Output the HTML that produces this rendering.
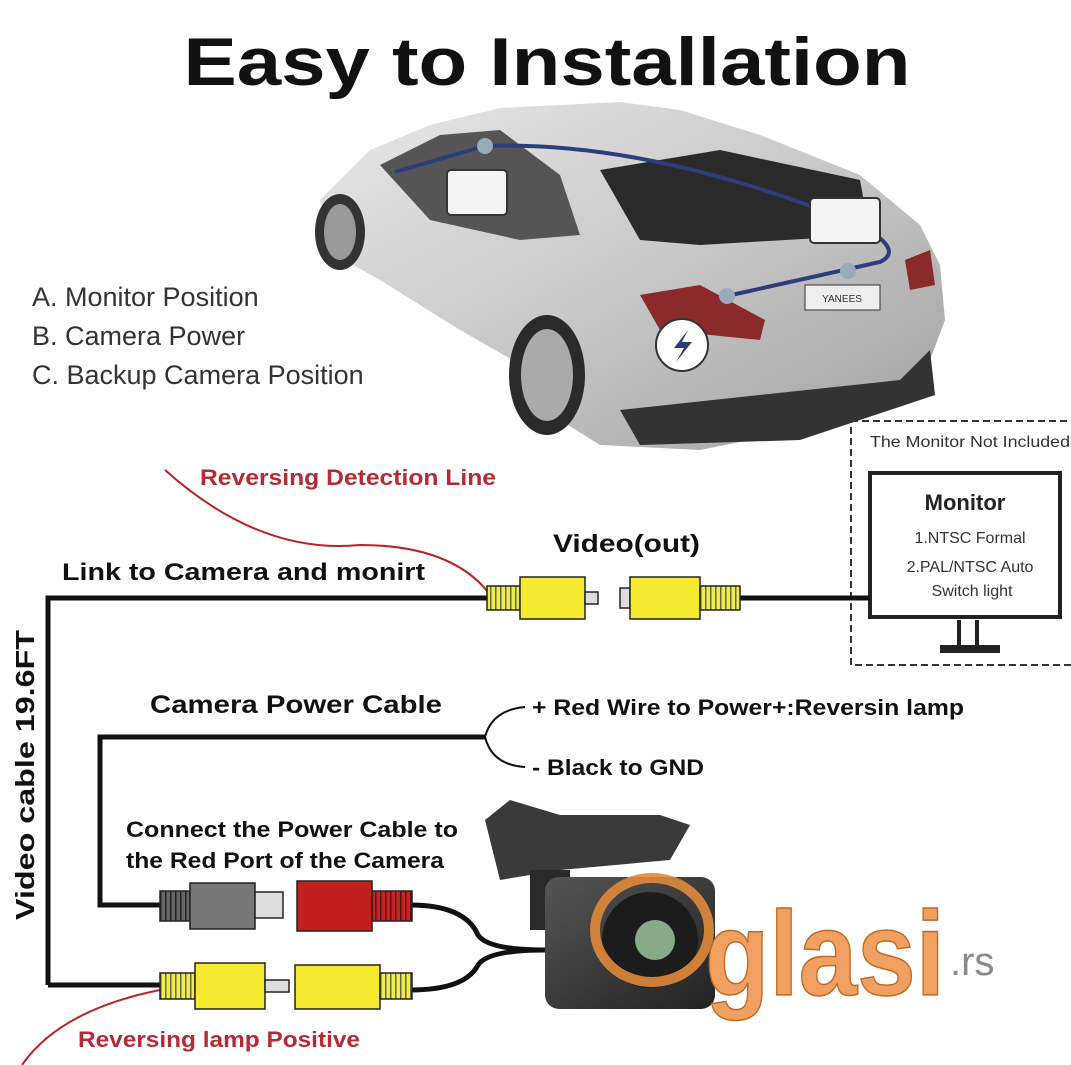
<!DOCTYPE html>
<html><head><meta charset="utf-8"><style>
html,body{margin:0;padding:0;background:#fff}
svg{display:block}
text{font-family:"Liberation Sans",sans-serif}
</style></head><body>
<svg width="1071" height="1065" viewBox="0 0 1071 1065" xmlns="http://www.w3.org/2000/svg">
<defs>
<linearGradient id="car" x1="0" y1="0" x2="1" y2="1">
<stop offset="0" stop-color="#e8e8e8"/><stop offset="0.5" stop-color="#c8c8c8"/><stop offset="1" stop-color="#a0a0a0"/>
</linearGradient>
<linearGradient id="cam" x1="0" y1="0" x2="1" y2="1">
<stop offset="0" stop-color="#555"/><stop offset="1" stop-color="#222"/>
</linearGradient>
<pattern id="rib" width="5" height="10" patternUnits="userSpaceOnUse"><rect width="5" height="10" fill="#ee4"/><rect width="1.5" height="10" fill="#665"/></pattern>
<pattern id="ribg" width="5" height="10" patternUnits="userSpaceOnUse"><rect width="5" height="10" fill="#666"/><rect width="1.5" height="10" fill="#222"/></pattern>
<pattern id="ribr" width="5" height="10" patternUnits="userSpaceOnUse"><rect width="5" height="10" fill="#c22"/><rect width="1.5" height="10" fill="#511"/></pattern>
</defs>
<text x="547" y="85" text-anchor="middle" font-size="68" font-weight="bold" fill="#111" textLength="727" lengthAdjust="spacingAndGlyphs">Easy to Installation</text>

<!-- car -->
<path d="M320,200 L370,150 L430,125 L500,108 L620,102 L680,110 L760,135 L860,175 L920,225 L940,265 L945,320 L930,360 L880,395 L800,430 L700,450 L600,445 L560,420 L530,370 L460,330 L380,280 L335,255 Z" fill="url(#car)"/>
<path d="M600,170 L720,150 L860,180 L870,235 L700,245 L640,240 Z" fill="#2a2a2a"/>
<path d="M380,165 L440,135 L500,130 L560,175 L580,235 L520,240 L430,220 Z" fill="#555"/>
<path d="M640,295 L700,285 L765,320 L760,340 L660,330 Z" fill="#8a2a2a"/>
<path d="M905,260 L930,250 L935,285 L910,290 Z" fill="#8a2a2a"/>
<ellipse cx="340" cy="232" rx="25" ry="38" fill="#333"/><ellipse cx="340" cy="232" rx="16" ry="28" fill="#999"/>
<ellipse cx="547" cy="375" rx="38" ry="60" fill="#2a2a2a"/><ellipse cx="547" cy="375" rx="26" ry="46" fill="#aaa"/>
<path d="M620,410 L900,380 L930,350 L935,395 L800,440 L640,445 Z" fill="#333"/>
<rect x="805" y="285" width="75" height="25" fill="#eee" stroke="#333"/><text x="842" y="302" text-anchor="middle" font-size="10" fill="#333">YANEES</text>
<path d="M395,172 L485,146 Q650,140 860,225 Q905,250 880,262 L727,296" fill="none" stroke="#2c3e7a" stroke-width="4"/>
<rect x="447" y="170" width="60" height="45" rx="4" fill="#f4f4f4" stroke="#333" stroke-width="2"/>
<rect x="810" y="198" width="70" height="45" rx="4" fill="#f4f4f4" stroke="#333" stroke-width="2"/>
<circle cx="682" cy="345" r="26" fill="#fff" stroke="#333" stroke-width="2"/><path d="M688,330 L674,348 L684,348 L676,362 L692,342 L682,342 Z" fill="#2c3e7a"/>
<circle cx="485" cy="146" r="8" fill="#9ab"/><circle cx="727" cy="296" r="8" fill="#9ab"/><circle cx="848" cy="271" r="8" fill="#9ab"/>

<text x="32" y="306" font-size="27" fill="#333">A. Monitor Position</text>
<text x="32" y="345" font-size="27" fill="#333">B. Camera Power</text>
<text x="32" y="384" font-size="27" fill="#333">C. Backup Camera Position</text>

<!-- monitor box -->
<rect x="851" y="421" width="230" height="244" fill="none" stroke="#333" stroke-width="2" stroke-dasharray="7,4"/>
<text x="870" y="447" font-size="16" fill="#333" textLength="200" lengthAdjust="spacingAndGlyphs">The Monitor Not Included</text>
<rect x="870" y="473" width="190" height="144" fill="#fff" stroke="#222" stroke-width="4"/>
<text x="965" y="510" text-anchor="middle" font-size="22" font-weight="bold" fill="#222">Monitor</text>
<text x="970" y="543" text-anchor="middle" font-size="16" fill="#333">1.NTSC Formal</text>
<text x="970" y="572" text-anchor="middle" font-size="16" fill="#333">2.PAL/NTSC Auto</text>
<text x="972" y="596" text-anchor="middle" font-size="16" fill="#333">Switch light</text>
<rect x="957" y="620" width="4" height="25" fill="#222"/><rect x="975" y="620" width="4" height="25" fill="#222"/>
<rect x="940" y="645" width="60" height="8" fill="#222"/>

<!-- wires -->
<path d="M48,985 L48,598 L487,598 M740,598 L870,598" fill="none" stroke="#111" stroke-width="5"/>
<path d="M48,985 L160,985" stroke="#111" stroke-width="5"/>
<path d="M485,737 L100,737 L100,905 L160,905" fill="none" stroke="#111" stroke-width="5"/>
<path d="M485,737 Q492,710 525,707 M485,737 Q492,765 525,767" fill="none" stroke="#111" stroke-width="2"/>
<path d="M410,905 Q465,905 478,935 Q488,950 545,950 M410,990 Q465,990 478,965 Q488,950 545,950" fill="none" stroke="#111" stroke-width="5"/>
<path d="M165,470 Q260,555 360,545 Q450,545 488,592" fill="none" stroke="#b22" stroke-width="2"/>
<path d="M160,990 Q60,1010 22,1065" fill="none" stroke="#b22" stroke-width="2"/>

<g stroke="#222" stroke-width="1.5">
<rect x="487" y="586" width="33" height="24" fill="url(#rib)"/><rect x="520" y="577" width="65" height="42" fill="#f5ea30"/><rect x="585" y="592" width="13" height="12" fill="#ddd"/>
<rect x="620" y="588" width="10" height="20" fill="#ddd"/><rect x="630" y="577" width="70" height="42" fill="#f5ea30"/><rect x="700" y="586" width="40" height="24" fill="url(#rib)"/>
<rect x="160" y="973" width="35" height="26" fill="url(#rib)"/><rect x="195" y="963" width="70" height="46" fill="#f5ea30"/><rect x="265" y="980" width="24" height="12" fill="#ddd"/>
<rect x="295" y="965" width="85" height="44" fill="#f5ea30"/><rect x="380" y="973" width="32" height="26" fill="url(#rib)"/>
<rect x="160" y="891" width="30" height="30" fill="url(#ribg)"/><rect x="190" y="883" width="65" height="46" fill="#777"/><rect x="255" y="892" width="28" height="26" fill="#ddd"/>
<rect x="297" y="881" width="75" height="50" fill="#c21f1f"/><rect x="372" y="891" width="40" height="30" fill="url(#ribr)"/>
</g>

<!-- camera -->
<path d="M485,820 L510,800 L560,815 L660,815 L690,825 L670,860 L560,870 L500,880 Z" fill="#3a3a3a"/>
<rect x="530" y="870" width="40" height="60" fill="#2a2a2a"/>
<rect x="545" y="877" width="170" height="132" rx="14" fill="url(#cam)"/>
<circle cx="650" cy="940" r="48" fill="#1c1c1c"/><circle cx="655" cy="940" r="20" fill="#8a8"/>

<ellipse cx="652" cy="930" rx="57" ry="52" fill="none" stroke="#e08a3a" stroke-width="10" opacity="0.9"/>
<text x="705" y="995" font-family="Liberation Serif,serif" font-size="120" font-weight="bold" fill="#f0a060" stroke="#c06a20" stroke-width="1.5" textLength="240" lengthAdjust="spacingAndGlyphs">glasi</text>
<text x="950" y="975" font-family="Liberation Serif,serif" font-size="40" fill="#8a8a8a">.rs</text>

<text x="200" y="485" font-size="22" font-weight="bold" fill="#b42a35" textLength="296" lengthAdjust="spacingAndGlyphs">Reversing Detection Line</text>
<text x="553" y="552" font-size="25" font-weight="bold" fill="#111" textLength="147" lengthAdjust="spacingAndGlyphs">Video(out)</text>
<text x="62" y="580" font-size="24" font-weight="bold" fill="#111" textLength="363" lengthAdjust="spacingAndGlyphs">Link to Camera and monirt</text>
<text x="150" y="713" font-size="25" font-weight="bold" fill="#111" textLength="292" lengthAdjust="spacingAndGlyphs">Camera Power Cable</text>
<text x="532" y="715" font-size="22" font-weight="bold" fill="#111" textLength="432" lengthAdjust="spacingAndGlyphs">+ Red Wire to Power+:Reversin lamp</text>
<text x="532" y="775" font-size="22" font-weight="bold" fill="#111" textLength="172" lengthAdjust="spacingAndGlyphs">- Black to GND</text>
<text x="126" y="837" font-size="22" font-weight="bold" fill="#111" textLength="332" lengthAdjust="spacingAndGlyphs">Connect the Power Cable to</text>
<text x="126" y="868" font-size="22" font-weight="bold" fill="#111" textLength="318" lengthAdjust="spacingAndGlyphs">the Red Port of the Camera</text>
<text x="78" y="1047" font-size="22" font-weight="bold" fill="#b42a35" textLength="282" lengthAdjust="spacingAndGlyphs">Reversing lamp Positive</text>
<text transform="translate(34,920) rotate(-90)" font-size="26" font-weight="bold" fill="#111" textLength="290" lengthAdjust="spacingAndGlyphs">Video cable 19.6FT</text>
</svg>
</body></html>
